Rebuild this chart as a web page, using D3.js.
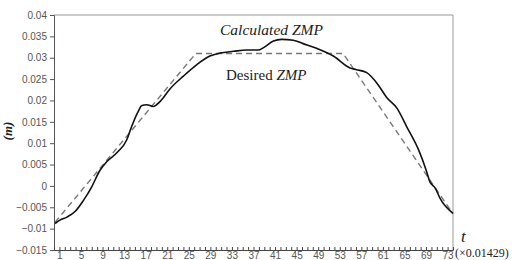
<!DOCTYPE html>
<html>
<head>
<meta charset="utf-8">
<title>ZMP</title>
<style>
  body { margin: 0; background: #fff; }
  .tick text { font-family: "Liberation Sans", Arial, sans-serif; font-size: 10px; fill: #555; }
  .serif { font-family: "Liberation Serif", "Times New Roman", serif; fill: #222; }
</style>
</head>
<body>
<svg id="chart" width="515" height="260"></svg>
<script src="https://d3js.org/d3.v7.min.js"></script>
<script>
// values; t in units of 0.01429 s, zmp in m
var calcT = [0.2, 1.1, 2.4, 3.9, 5.4, 7.0, 8.5, 9.8, 11.7, 13.5, 14.4, 15.6, 16.3, 17.2, 18.4,
             19.7, 21.5, 24.0, 26.5, 28.9, 30.8, 33.3, 35.7, 37.9, 38.8, 40.7, 42.2, 44.4,
             46.2, 48.7, 51.8, 54.9, 56.1, 58.0, 60.1, 61.7, 63.6, 65.4, 67.6, 69.1, 69.7,
             70.7, 71.6, 74.0];
var calcZmp = [-0.0088, -0.0080, -0.0073, -0.0060, -0.0035, -0.0002, 0.0036, 0.0057, 0.0078,
               0.0108, 0.0139, 0.0174, 0.0188, 0.0190, 0.0186, 0.0198, 0.0227, 0.0257, 0.0284,
               0.0304, 0.0311, 0.0315, 0.0318, 0.0318, 0.0323, 0.0339, 0.0343, 0.0341, 0.0333,
               0.0322, 0.0304, 0.0276, 0.0272, 0.0265, 0.0237, 0.0207, 0.0182, 0.0139, 0.0085,
               0.0034, 0.0010, -0.0005, -0.0029, -0.0064];
var desT = [0.2, 26.3, 53.6, 74.0];
var desZmp = [-0.0085, 0.031, 0.031, -0.0065];

var xTicks = d3.range(1, 74, 4);
var yTicks = [0.04, 0.035, 0.03, 0.025, 0.02, 0.015, 0.01, 0.005, 0, -0.005, -0.01, -0.015];
var yTickLabels = ["0.04", "0.035", "0.03", "0.025", "0.02", "0.015", "0.01", "0.005", "0",
                   "\u22120.005", "\u22120.01", "\u22120.015"];

var plotL = 54, plotR = 453, plotT = 15, plotB = 250;
var svg = d3.select("#chart");

var x = d3.scaleLinear().domain([0, 74]).range([plotL, plotR]);
var y = d3.scaleLinear().domain([-0.015, 0.04]).range([plotB, plotT]);

// frame (top and right)
svg.append("path")
  .attr("d", "M" + plotL + "," + plotT + "H" + plotR + "V" + plotB)
  .attr("fill", "none").attr("stroke", "#999").attr("stroke-width", 1);

// y axis
var yAxis = svg.append("g")
  .attr("transform", "translate(" + plotL + ",0)")
  .call(d3.axisLeft(y).tickValues(yTicks).tickSize(4).tickPadding(3)
    .tickFormat(function(d, i) { return yTickLabels[i]; }));
yAxis.select(".domain").attr("stroke", "#555");
yAxis.selectAll(".tick line").attr("stroke", "#555");

// x axis: minor ticks every unit, pointing inward
var xMinor = svg.append("g")
  .attr("transform", "translate(0," + plotB + ")")
  .call(d3.axisBottom(x).tickValues(d3.range(0, 75)).tickSize(-3).tickFormat(""));
xMinor.select(".domain").attr("stroke", "#444");
xMinor.selectAll(".tick line").attr("stroke", "#444");

var xAxis = svg.append("g")
  .attr("transform", "translate(0," + plotB + ")")
  .call(d3.axisBottom(x).tickValues(xTicks).tickSize(0).tickPadding(2));
xAxis.select(".domain").remove();

// lines
var line = d3.line().x(function(d) { return x(d[0]); }).y(function(d) { return y(d[1]); });

svg.append("path")
  .datum(desT.map(function(t, i) { return [t, desZmp[i]]; }))
  .attr("d", line)
  .attr("fill", "none").attr("stroke", "#777").attr("stroke-width", 1.4)
  .attr("stroke-dasharray", "6,4");

svg.append("path")
  .datum(calcT.map(function(t, i) { return [t, calcZmp[i]]; }))
  .attr("d", line.curve(d3.curveMonotoneX))
  .attr("fill", "none").attr("stroke", "#111").attr("stroke-width", 1.6);

// annotations
svg.append("text").attr("class", "serif")
  .attr("x", 220).attr("y", 35).attr("font-size", 15.5).attr("font-style", "italic")
  .text("Calculated ZMP");

var des = svg.append("text").attr("class", "serif")
  .attr("x", 226).attr("y", 80).attr("font-size", 15);
des.append("tspan").text("Desired ");
des.append("tspan").attr("font-style", "italic").text("ZMP");

svg.append("text").attr("class", "serif")
  .attr("transform", "translate(12,131) rotate(-90)")
  .attr("text-anchor", "middle").attr("font-size", 13).attr("font-weight", "bold")
  .attr("font-style", "italic")
  .text("(m)");

svg.append("text").attr("class", "serif")
  .attr("x", 461).attr("y", 242).attr("font-size", 17).attr("font-style", "italic")
  .text("t");

svg.append("text").attr("class", "serif")
  .attr("x", 455).attr("y", 257).attr("font-size", 12)
  .text("(\u00d70.01429)");
</script>
</body>
</html>
